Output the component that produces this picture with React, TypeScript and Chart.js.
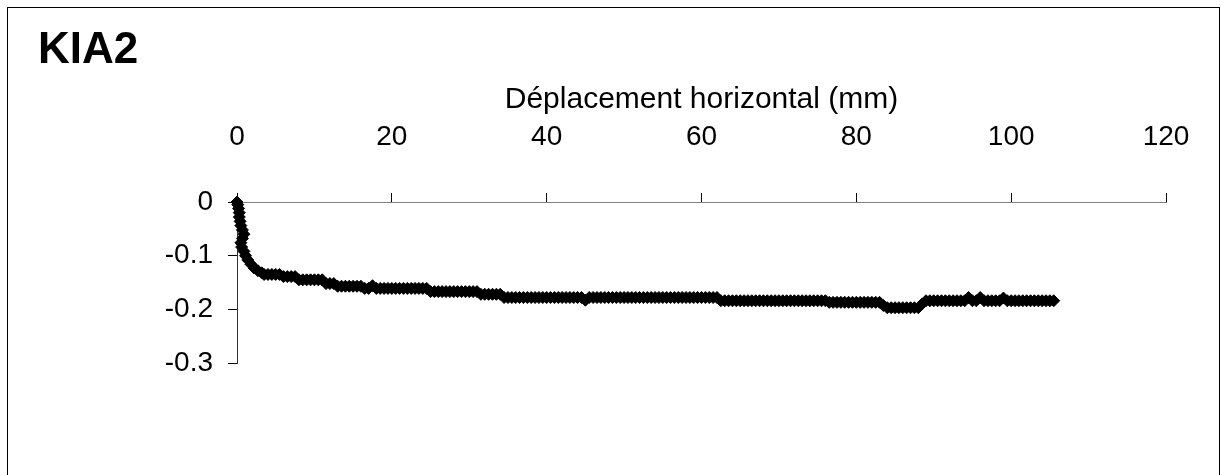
import React, { useEffect, useRef } from "react";
import { Chart, registerables } from "chart.js";

Chart.register(...registerables);

const chartTitle = "KIA2";
const xAxisTitle = "Déplacement horizontal (mm)";
const xTickMin = 0;
const xTickMax = 120;
const xTickStep = 20;
const yTickMin = -0.3;
const yTickMax = 0;
const yTickStep = 0.1;

// horizontal displacement (mm)
const dispH = [
  0, 0.1, 0.2, 0.3, 0.3, 0.4, 0.5, 0.7, 0.9, 0.7,
  0.5, 0.6, 0.9, 1.1, 1.4, 1.8, 2.2, 2.7, 3.2,
  3.5, 4, 4.5, 5, 5.5, 6, 6.5, 7, 7.5, 8,
  8.5, 9, 9.5, 10, 10.5, 11, 11.5, 12, 12.5, 13,
  13.5, 14, 14.5, 15, 15.5, 16, 16.5, 17, 17.5, 18,
  18.5, 19, 19.5, 20, 20.5, 21, 21.5, 22, 22.5, 23,
  23.5, 24, 24.5, 25, 25.5, 26, 26.5, 27, 27.5, 28,
  28.5, 29, 29.5, 30, 30.5, 31, 31.5, 32, 32.5, 33,
  33.5, 34, 34.5, 35, 35.5, 36, 36.5, 37, 37.5, 38,
  38.5, 39, 39.5, 40, 40.5, 41, 41.5, 42, 42.5, 43,
  43.5, 44, 44.5, 45, 45.5, 46, 46.5, 47, 47.5, 48,
  48.5, 49, 49.5, 50, 50.5, 51, 51.5, 52, 52.5, 53,
  53.5, 54, 54.5, 55, 55.5, 56, 56.5, 57, 57.5, 58,
  58.5, 59, 59.5, 60, 60.5, 61, 61.5, 62, 62.5, 63,
  63.5, 64, 64.5, 65, 65.5, 66, 66.5, 67, 67.5, 68,
  68.5, 69, 69.5, 70, 70.5, 71, 71.5, 72, 72.5, 73,
  73.5, 74, 74.5, 75, 75.5, 76, 76.5, 77, 77.5, 78,
  78.5, 79, 79.5, 80, 80.5, 81, 81.5, 82, 82.5, 83,
  83.5, 84, 84.5, 85, 85.5, 86, 86.5, 87, 87.5, 88,
  88.5, 89, 89.5, 90, 90.5, 91, 91.5, 92, 92.5, 93,
  93.5, 94, 94.5, 95, 95.5, 96, 96.5, 97, 97.5, 98,
  98.5, 99, 99.5, 100, 100.5, 101, 101.5, 102, 102.5, 103,
  103.5, 104, 104.5, 105, 105.5,
];

// vertical displacement (mm)
const dispV = [
  0, -0.005, -0.012, -0.02, -0.028, -0.036, -0.044, -0.052, -0.06, -0.068,
  -0.076, -0.084, -0.092, -0.1, -0.108, -0.116, -0.123, -0.128, -0.132,
  -0.135, -0.135, -0.135, -0.135, -0.135, -0.139, -0.139, -0.139, -0.139, -0.145,
  -0.145, -0.145, -0.145, -0.145, -0.145, -0.145, -0.152, -0.152, -0.152, -0.157,
  -0.157, -0.157, -0.157, -0.157, -0.157, -0.157, -0.161, -0.161, -0.156, -0.161,
  -0.161, -0.161, -0.161, -0.161, -0.161, -0.161, -0.161, -0.161, -0.161, -0.161,
  -0.161, -0.161, -0.161, -0.167, -0.167, -0.167, -0.167, -0.167, -0.167, -0.167,
  -0.167, -0.167, -0.167, -0.167, -0.167, -0.167, -0.172, -0.172, -0.172, -0.172,
  -0.172, -0.172, -0.178, -0.178, -0.178, -0.178, -0.178, -0.178, -0.178, -0.178,
  -0.178, -0.178, -0.178, -0.178, -0.178, -0.178, -0.178, -0.178, -0.178, -0.178,
  -0.178, -0.178, -0.178, -0.183, -0.178, -0.178, -0.178, -0.178, -0.178, -0.178,
  -0.178, -0.178, -0.178, -0.178, -0.178, -0.178, -0.178, -0.178, -0.178, -0.178,
  -0.178, -0.178, -0.178, -0.178, -0.178, -0.178, -0.178, -0.178, -0.178, -0.178,
  -0.178, -0.178, -0.178, -0.178, -0.178, -0.178, -0.178, -0.178, -0.184, -0.184,
  -0.184, -0.184, -0.184, -0.184, -0.184, -0.184, -0.184, -0.184, -0.184, -0.184,
  -0.184, -0.184, -0.184, -0.184, -0.184, -0.184, -0.184, -0.184, -0.184, -0.184,
  -0.184, -0.184, -0.184, -0.184, -0.184, -0.184, -0.187, -0.187, -0.187, -0.187,
  -0.187, -0.187, -0.187, -0.187, -0.187, -0.187, -0.187, -0.187, -0.187, -0.187,
  -0.193, -0.197, -0.197, -0.197, -0.197, -0.197, -0.197, -0.197, -0.197, -0.197,
  -0.19, -0.184, -0.184, -0.184, -0.184, -0.184, -0.184, -0.184, -0.184, -0.184,
  -0.184, -0.184, -0.178, -0.184, -0.184, -0.178, -0.184, -0.184, -0.184, -0.184,
  -0.184, -0.179, -0.184, -0.184, -0.184, -0.184, -0.184, -0.184, -0.184, -0.184,
  -0.184, -0.184, -0.184, -0.184, -0.184,
];

const FONT = '"Liberation Sans", Arial, Helvetica, sans-serif';

const framePlugin = {
  id: "frameAndTitle",
  beforeDraw(chart: any) {
    const ctx = chart.ctx;
    ctx.save();
    ctx.fillStyle = "#ffffff";
    ctx.fillRect(0, 0, chart.width, chart.height);
    ctx.strokeStyle = "#000000";
    ctx.lineWidth = 1;
    ctx.strokeRect(7.5, 7.5, 1212, 600);
    ctx.restore();
  },
  afterDraw(chart: any) {
    const ctx = chart.ctx;
    ctx.save();
    ctx.fillStyle = "#000000";
    ctx.font = `bold 44px ${FONT}`;
    ctx.textAlign = "left";
    ctx.textBaseline = "alphabetic";
    ctx.fillText(chartTitle, 38, 63);
    ctx.restore();
  },
};

export default function App() {
  const canvasRef = useRef<HTMLCanvasElement | null>(null);

  useEffect(() => {
    if (!canvasRef.current) return;
    const points = dispH.map((x, i) => ({ x, y: dispV[i] }));
    const chart = new Chart(canvasRef.current, {
      type: "scatter",
      data: {
        datasets: [
          {
            label: chartTitle,
            data: points,
            showLine: true,
            borderColor: "#000000",
            borderWidth: 1,
            pointStyle: "rectRot",
            pointRadius: 6,
            pointBackgroundColor: "#000000",
            pointBorderColor: "#000000",
            pointBorderWidth: 1,
            clip: false as any,
          },
        ],
      },
      options: {
        responsive: false,
        animation: false,
        devicePixelRatio: 1,
        layout: { padding: { left: 0, top: 0, right: 58, bottom: 112 } },
        plugins: {
          legend: { display: false },
          tooltip: { enabled: false },
          title: { display: false },
        },
        scales: {
          x: {
            type: "linear",
            position: "top",
            min: xTickMin,
            max: xTickMax,
            ticks: {
              stepSize: xTickStep,
              padding: 39,
              color: "#000000",
              font: { family: FONT, size: 28 },
            },
            grid: {
              display: true,
              drawOnChartArea: false,
              drawTicks: true,
              tickLength: 9,
              color: "#000000",
            },
            border: { display: true, color: "#808080", width: 1 },
            title: {
              display: true,
              text: xAxisTitle,
              color: "#000000",
              font: { family: FONT, size: 30 },
              padding: { top: 82, bottom: 0 },
            },
            afterFit: (scale: any) => {
              scale.height = 202;
              scale.paddingLeft = 0;
              scale.paddingRight = 0;
            },
          },
          y: {
            type: "linear",
            position: "left",
            min: yTickMin,
            max: yTickMax,
            ticks: {
              stepSize: yTickStep,
              padding: 15,
              color: "#000000",
              font: { family: FONT, size: 28 },
            },
            grid: {
              display: true,
              drawOnChartArea: false,
              drawTicks: true,
              tickLength: 9,
              color: "#000000",
            },
            border: { display: true, color: "#333333", width: 1 },
            afterFit: (scale: any) => {
              scale.width = 237;
              scale.paddingTop = 0;
              scale.paddingBottom = 0;
            },
          },
        },
      },
      plugins: [framePlugin],
    });
    return () => chart.destroy();
  }, []);

  return (
    <div style={{ position: "absolute", left: 0, top: 0, width: 1224, height: 475 }}>
      <canvas ref={canvasRef} width={1224} height={475} style={{ display: "block" }} />
    </div>
  );
}
